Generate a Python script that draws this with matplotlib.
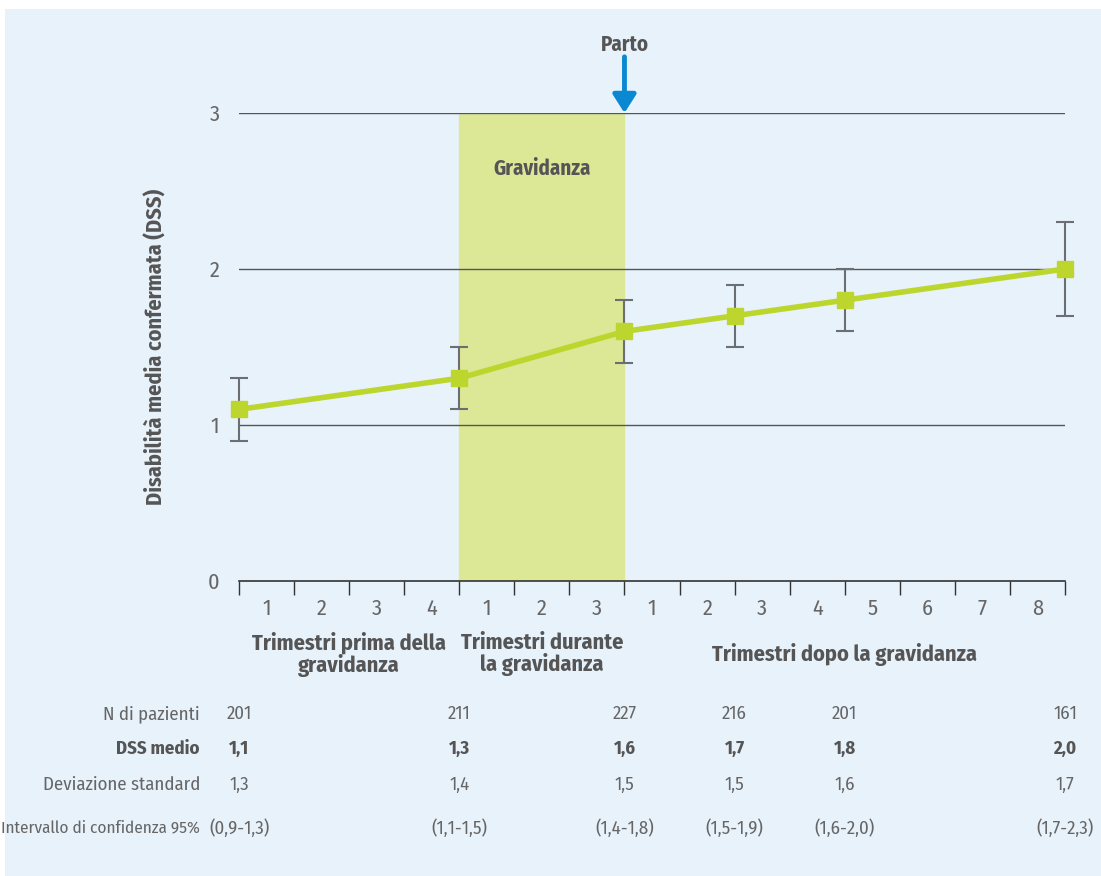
import matplotlib.pyplot as plt
import matplotlib.transforms as mtransforms
from matplotlib.patches import Rectangle

plt.rcParams['font.family'] = ['Fira Sans Condensed', 'Roboto Condensed', 'Archivo Narrow', 'DejaVu Sans']

# posizione dei punti (in trimestri, 0..15) e valori
pos = [0, 4, 7, 9, 11, 15]
dss = [1.1, 1.3, 1.6, 1.7, 1.8, 2.0]
ci_lo = [0.9, 1.1, 1.4, 1.5, 1.6, 1.7]
ci_hi = [1.3, 1.5, 1.8, 1.9, 2.0, 2.3]

n_pazienti = ['201', '211', '227', '216', '201', '161']
dss_txt = ['1,1', '1,3', '1,6', '1,7', '1,8', '2,0']
dev_std = ['1,3', '1,4', '1,5', '1,5', '1,6', '1,7']
ic_txt = ['(0,9-1,3)', '(1,1-1,5)', '(1,4-1,8)', '(1,5-1,9)', '(1,6-2,0)', '(1,7-2,3)']

tick_lab = ['1', '2', '3', '4', '1', '2', '3', '1', '2', '3', '4', '5', '6', '7', '8']
gruppi = ['Trimestri prima della\ngravidanza', 'Trimestri durante\nla gravidanza',
          'Trimestri dopo la gravidanza']
gruppi_x = [2, 5.5, 11]

grigio = '#555555'
grigio_chiaro = '#666666'
verde = '#bdd62d'
fondo = '#e8f2fb'

fig = plt.figure(figsize=(11.01, 8.76), dpi=100, facecolor='white')
fig.patches.append(Rectangle((5 / 1101, 0), 1, 1 - 9 / 876, transform=fig.transFigure,
                             facecolor=fondo, edgecolor='none', zorder=-10))

ax = fig.add_axes([239 / 1101, 295 / 876, 826 / 1101, 468 / 876])
ax.set_facecolor('none')
ax.set_xlim(0, 15)
ax.set_ylim(0, 3)
for s in ['top', 'right', 'left']:
    ax.spines[s].set_visible(False)
ax.spines['bottom'].set_color('#333333')
ax.spines['bottom'].set_linewidth(1.2)

# banda gravidanza
ax.axvspan(4, 7, ymin=0, ymax=1, color='#dde897', zorder=0)
ax.text(5.5, 2.64, 'Gravidanza', ha='center', va='center', fontsize=15,
        fontweight='bold', color=grigio)

# griglia
for g in [1, 2, 3]:
    ax.axhline(g, color='#555555', lw=1, zorder=1)

ax.errorbar(pos, dss, yerr=[[d - l for d, l in zip(dss, ci_lo)], [h - d for d, h in zip(dss, ci_hi)]],
            fmt='none', ecolor='#6b6f74', elinewidth=1.5, capsize=6.5, capthick=1.5, zorder=2,
            clip_on=False)
ax.plot(pos, dss, color=verde, lw=4, marker='s', ms=11.5, zorder=3, clip_on=False)

ax.set_yticks([0, 1, 2, 3])
ax.set_yticklabels(['0', '1', '2', '3'], fontsize=16, color=grigio_chiaro)
ax.tick_params(axis='y', length=0, pad=14)
ax.set_xticks(range(16))
ax.set_xticklabels([])
ax.tick_params(axis='x', length=10, width=1, color='#333333', direction='out')
ax.set_ylabel('Disabilità media confermata (DSS)', fontsize=16, fontweight='bold',
              color=grigio)
ax.yaxis.set_label_coords((167 - 239) / 826, 0.5)

tr = mtransforms.blended_transform_factory(ax.transData, fig.transFigure)
for i, t in enumerate(tick_lab):
    ax.text(i + 0.5, 1 - 609 / 876, t, transform=tr, ha='center', va='center',
            fontsize=16, color=grigio_chiaro)
for gx, g in zip(gruppi_x, gruppi):
    ax.text(gx, 1 - 654 / 876, g, transform=tr, ha='center', va='center', fontsize=16,
            fontweight='bold', color=grigio, linespacing=1.0)

# parto
ax.annotate('', xy=(7, 3.0), xytext=(7, 3.36),
            arrowprops=dict(arrowstyle='-|>,head_width=0.7,head_length=1.1', color='#0a88d1', lw=3.5,
                            shrinkA=0, shrinkB=0), annotation_clip=False)
ax.text(7, 1 - 45 / 876, 'Parto', transform=tr, ha='center', va='center', fontsize=15,
        fontweight='bold', color=grigio)

# tabella
righe = [('N di pazienti', n_pazienti, 'normal', 714, 13.5),
         ('DSS medio', dss_txt, 'bold', 749, 13.5),
         ('Deviazione standard', dev_std, 'normal', 785, 13.5),
         ('Intervallo di confidenza 95%', ic_txt, 'normal', 828, 12.3)]
for lab, vals, w, yy, fs in righe:
    fig.text(200 / 1101, 1 - yy / 876, lab, ha='right', va='center', fontsize=fs,
             fontweight=w, color=grigio if w == 'bold' else grigio_chiaro)
    for p, v in zip(pos, vals):
        ax.text(p, 1 - yy / 876, v, transform=tr, ha='center', va='center', fontsize=13.5,
                fontweight=w, color=grigio if w == 'bold' else grigio_chiaro)

fig.savefig('out.png', dpi=100, facecolor='white')
